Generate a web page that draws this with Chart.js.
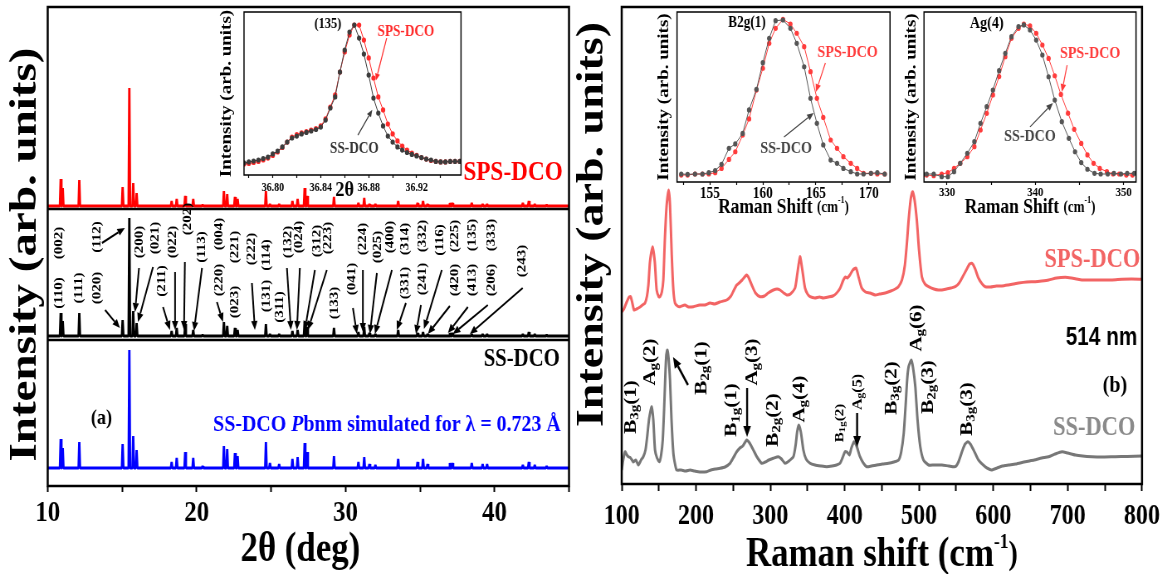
<!DOCTYPE html>
<html>
<head>
<meta charset="utf-8">
<script src="https://cdn.jsdelivr.net/npm/chart.js@4.4.1/dist/chart.umd.min.js"></script>
<style>
  html, body { margin: 0; padding: 0; background: #fff; }
  #wrap { position: relative; width: 1172px; height: 574px; overflow: hidden; }
  #wrap canvas { position: absolute; left: 0; top: 0; }
</style>
</head>
<body>
<div id="wrap">
  <canvas id="xrd" width="1412" height="574" style="width:1172px;height:574px"></canvas>
  <canvas id="raman" width="1412" height="574" style="width:1172px;height:574px"></canvas>
  <canvas id="xrdInset" width="1412" height="574" style="width:1172px;height:574px"></canvas>
  <canvas id="ramanInsetA" width="1412" height="574" style="width:1172px;height:574px"></canvas>
  <canvas id="ramanInsetB" width="1412" height="574" style="width:1172px;height:574px"></canvas>
</div>
<script>
// ---- data: XRD (left panel) ----
const xrdPeakPos = [10.87, 11.01, 12.12, 15.03, 15.48, 15.74, 15.97, 18.32, 18.66, 19.23, 19.77, 20.4,
  21.83, 22.05, 22.57, 22.75, 24.65, 24.92, 25.54, 26.43, 26.78, 27.25, 27.42, 29.22, 30.86, 31.25,
  31.6, 32.0, 33.53, 34.83, 35.2, 35.5, 37.0, 37.17, 38.47, 39.2, 39.5, 41.9, 42.3, 42.7, 43.5];
const xrdSimHeights = [29, 20, 26, 24, 118, 32, 18, 6, 10, 16, 10, 2, 22, 19, 15, 12, 26, 5, 4, 9, 11, 25,
  16, 12, 6, 11, 4, 3, 9, 6, 9, 4, 5, 5, 5, 4, 4, 3, 6, 3, 2];
const xrdSsHeights = [23, 15, 23, 16, 118, 25, 13, 5, 8, 12, 6, 1, 14, 10, 8, 6, 12, 2, 2, 5, 6, 14,
  9, 8, 4, 9, 3, 2, 6, 3, 4, 2, 3, 3, 2, 2, 2, 2, 4, 2, 1];
const xrdSpsHeights = [27, 18, 26, 19, 118, 23, 13, 5, 7, 10, 7, 1, 15, 12, 9, 7, 15, 2, 2, 5, 7, 18,
  10, 9, 3, 8, 2, 2, 5, 3, 5, 2, 3, 3, 3, 2, 2, 3, 5, 2, 1];
const xrdOffsets = { sps: 280, ss: 150, sim: 18 };
const xrdSeparators = [277, 146];

// Miller index labels: [text, 2theta, intensity]
const millerLabels = [
  ["(110)", 10.76, 193], ["(002)", 10.76, 243], ["(111)", 12.10, 198], ["(020)", 13.31, 198],
  ["(112)", 13.31, 249], ["(200)", 16.19, 244], ["(021)", 17.20, 248], ["(211)", 17.67, 205],
  ["(022)", 18.41, 244], ["(202)", 19.42, 267], ["(113)", 20.36, 239], ["(220)", 21.50, 206],
  ["(004)", 21.50, 252], ["(023)", 22.57, 184], ["(221)", 22.57, 239], ["(222)", 23.71, 237],
  ["(131)", 24.72, 190], ["(114)", 24.72, 231], ["(311)", 25.59, 179], ["(132)", 26.12, 244],
  ["(024)", 26.86, 249], ["(312)", 28.07, 245], ["(223)", 28.81, 248], ["(133)", 29.28, 183],
  ["(041)", 30.42, 207], ["(224)", 31.16, 247], ["(025)", 32.17, 239], ["(400)", 32.97, 249],
  ["(331)", 33.98, 203], ["(314)", 33.98, 247], ["(241)", 35.19, 207], ["(332)", 35.19, 250],
  ["(116)", 36.33, 246], ["(420)", 37.34, 206], ["(225)", 37.34, 250], ["(413)", 38.54, 206],
  ["(135)", 38.54, 251], ["(206)", 39.81, 206], ["(333)", 39.81, 251], ["(243)", 41.83, 225]
];
// arrows: [from 2theta, from I, to 2theta, to I]
const millerArrows = [
  [13.85, 176, 14.85, 158], [13.64, 243, 15.18, 258], [16.13, 218, 15.86, 174], [17.07, 219, 16.06, 164],
  [17.74, 179, 18.21, 156], [18.55, 214, 18.55, 156], [19.21, 224, 19.15, 156], [20.36, 218, 19.82, 155],
  [21.36, 184, 21.77, 164], [23.71, 203, 23.91, 156], [26.06, 218, 26.33, 156], [26.93, 218, 26.73, 156],
  [27.94, 216, 27.27, 156], [28.74, 216, 27.47, 156], [30.49, 178, 30.76, 152], [31.16, 216, 31.16, 154],
  [32.10, 213, 31.63, 152], [33.11, 216, 31.97, 152], [34.05, 183, 33.44, 156], [35.06, 181, 34.72, 152],
  [36.46, 216, 35.26, 157], [37.00, 180, 35.52, 152], [38.21, 179, 36.87, 153], [39.55, 181, 37.20, 152],
  [41.89, 198, 38.34, 152]
];

// ---- data: XRD inset, (135) reflection ----
const insetTheta = [36.776, 36.780, 36.784, 36.788, 36.792, 36.796, 36.800, 36.804, 36.808, 36.812,
  36.816, 36.820, 36.824, 36.828, 36.832, 36.836, 36.840, 36.844, 36.848, 36.852, 36.856, 36.860,
  36.864, 36.868, 36.872, 36.876, 36.880, 36.884, 36.888, 36.892, 36.896, 36.900, 36.904, 36.908,
  36.912, 36.916, 36.920, 36.924, 36.928, 36.932, 36.936, 36.940, 36.944, 36.948, 36.952, 36.956];
const insetSs = [7.4, 8.0, 8.6, 9.2, 10.1, 11.0, 12.9, 14.7, 17.2, 20.2, 22.7, 23.9, 25.2, 26.1, 27.0,
  27.9, 29.4, 33.7, 41.1, 47.9, 63.2, 76.7, 87.7, 92.0, 84.0, 74.2, 61.3, 47.2, 38.0, 30.1, 23.9,
  20.2, 17.2, 15.3, 13.8, 12.6, 11.7, 10.7, 9.8, 9.2, 8.3, 8.0, 8.0, 8.3, 8.3, 8.3];
const insetSps = [6.7, 7.1, 7.7, 8.3, 9.2, 10.4, 12.0, 14.1, 16.9, 20.2, 23.3, 24.8, 25.8, 26.7, 27.6,
  28.5, 30.1, 34.4, 41.7, 49.1, 63.2, 75.5, 85.9, 92.0, 92.0, 82.8, 71.8, 59.5, 47.9, 39.9, 31.3,
  25.2, 20.9, 17.8, 15.3, 13.5, 12.0, 10.7, 9.8, 8.9, 8.3, 8.0, 8.0, 8.3, 8.3, 8.3];

// ---- data: Raman (right panel), already stacked ----
const ramanSps = [
  [100, 172.3], [103, 175], [106.7, 182], [110, 187], [112, 187.3], [114, 182], [116.6, 174], [120, 175],
  [124.7, 177], [128, 179], [131.4, 181], [134, 188], [135.9, 199], [138, 222], [141.7, 237.3], [144.5, 222],
  [147, 194], [150, 187], [151.6, 187.3], [154, 192], [156, 204], [158, 244], [160.5, 279], [163.2, 294],
  [165, 279], [167.3, 229], [169.5, 194], [171.7, 181], [175, 178], [178.5, 177.3], [185, 179], [190, 177],
  [196.4, 177.3], [205, 179], [212, 179], [218.8, 181], [225, 180], [232, 182], [241.3, 184], [247, 188],
  [251, 194], [254.7, 199], [258, 201], [262, 204], [268.2, 209], [271, 206], [274.9, 199], [280, 191],
  [286.1, 187.3], [292, 188], [297, 191], [304, 194], [309, 195], [313, 194], [318, 191], [322, 189],
  [327, 190], [333.2, 196], [336, 209], [339.9, 227.3], [343, 214], [346.6, 196], [350, 190], [353.4, 187.3],
  [360, 186], [366, 187], [371.3, 186], [378, 187], [384, 188], [389.2, 191], [394, 196], [398.2, 204],
  [401, 207], [403.6, 206], [407, 209], [411, 214], [415.2, 216], [419, 206], [422.9, 196], [428, 192],
  [434.1, 191], [441, 189], [447, 190], [454.6, 191], [462, 193], [468, 195], [472, 197], [477, 204],
  [481, 219], [484, 244], [486, 264], [489, 286], [491.4, 292.3], [494, 284], [497, 264], [500, 234],
  [503.8, 207.3], [508, 200], [512.8, 197.3], [520, 195], [526, 194], [530.8, 194], [537, 195], [543, 196],
  [548.7, 197.3], [554, 201], [560, 209], [565, 216], [568, 220], [571.2, 220.7], [575, 216], [580.1, 205.7],
  [585, 200], [589, 197.3], [596, 197], [604, 198], [611.5, 198], [620, 199], [627, 200], [634, 201],
  [645, 202], [656.4, 202.3], [665, 203], [674.4, 204], [685, 206], [696.8, 206.7], [705, 206], [712, 205],
  [719, 204], [730, 204], [746, 204], [760, 204], [773, 204.7], [786, 205], [800, 204.7]
];
const ramanSs = [
  [100, 14], [102, 24], [104.5, 32.3], [107, 29], [109, 27.3], [112, 26], [115.7, 22], [119, 24],
  [122.4, 19], [126, 24], [129, 27.3], [132, 34], [134.5, 49], [137, 66], [140.4, 77.3], [142.5, 64],
  [144.8, 34], [147.5, 26], [150.7, 22.3], [153, 29], [155.2, 44], [157, 74], [158.7, 109], [160, 129],
  [161.4, 134], [163, 126], [165, 104], [167, 64], [169.5, 30.7], [172, 19], [174, 14], [180, 14],
  [186, 13], [192, 14], [198, 13], [205, 12], [214.3, 12.3], [220, 14], [226, 15], [232.3, 15.7],
  [239, 17], [245.7, 20.7], [250, 26], [254.7, 32.3], [259, 36], [263, 38], [268.2, 44], [272, 41],
  [277.1, 34], [282, 27], [288.3, 20.7], [293, 22], [298, 24], [304, 25.7], [310.8, 27.3], [315, 25],
  [319.7, 20.7], [325, 23], [331, 27.3], [334, 39], [336, 52], [338.1, 59], [341, 52], [344.4, 34],
  [348, 25], [353.4, 20.7], [360, 19], [368, 18], [375.8, 17.3], [383, 18], [389, 19], [393.7, 20.7],
  [397, 26], [400.4, 32.3], [403, 32], [406.3, 29], [409, 36], [412.6, 42.3], [416, 38], [420.6, 27.3],
  [425, 21], [429.6, 17.3], [436, 18], [443, 19], [451, 20], [459, 20.7], [466, 22], [472.6, 24],
  [476, 32], [479.4, 50.7], [482, 79], [484, 104], [486, 117.3], [489.6, 124], [492, 116], [495, 97.3],
  [498, 64], [501.7, 37.3], [506, 24], [512.8, 19], [520, 19], [530.8, 19], [540, 18], [548.7, 17.3],
  [553, 22], [558.6, 34], [562, 40], [565.8, 42.3], [569, 40], [573.4, 34], [580, 24], [589, 17.3],
  [594, 15], [598, 14], [605, 16], [612, 18], [620.5, 19], [630, 20], [643, 22.3], [655, 24],
  [665, 26], [674.4, 27.3], [683, 30], [692.3, 32.3], [700, 31], [710.3, 29], [720, 28], [732.7, 27.3],
  [745, 27], [764, 27.3], [780, 27.5], [800, 28]
];

// mode labels: [main, subscript, index, shift, intensity, size]
const modeLabels = [
  ["B", "3g", "(1)", 112.5, 77, 21], ["A", "g", "(2)", 138.1, 122, 21], ["B", "2g", "(1)", 208.1, 116, 21],
  ["B", "1g", "(1)", 248.5, 74, 21], ["A", "g", "(3)", 275.4, 122, 21], ["B", "2g", "(2)", 303.7, 64, 21],
  ["A", "g", "(4)", 340.0, 85, 21], ["B", "1g", "(2)", 393.8, 61, 15], ["A", "g", "(5)", 418.1, 92, 16],
  ["A", "g", "(6)", 497.4, 156, 21], ["B", "3g", "(2)", 463.8, 96, 21], ["B", "2g", "(3)", 512.3, 97, 21],
  ["B", "3g", "(3)", 564.8, 75, 21]
];
const modeArrows = [[189.2, 99, 169.0, 127], [268.7, 96, 268.7, 47], [416.7, 71, 416.7, 37]];

// ---- data: Raman insets ----
const insetAShift = [152.3, 152.9, 153.6, 154.3, 154.9, 155.5, 156.1, 156.8, 157.4, 158.1, 158.7, 159.4,
  160.0, 160.6, 161.2, 161.9, 162.6, 163.2, 163.9, 164.5, 165.1, 165.7, 166.4, 167.0, 167.6, 168.3,
  168.9, 169.5, 170.2, 170.8, 171.5];
const insetASs = [4.7, 4.5, 4.7, 4.7, 5.5, 6.7, 10.4, 19.8, 22.4, 28.6, 42.4, 54.5, 70.2, 84.5, 94.9,
  95.3, 90.4, 81.6, 67.8, 49.2, 34.5, 21.8, 12.9, 11.0, 8.0, 6.1, 4.7, 4.7, 5.1, 5.5, 4.7];
const insetASps = [4.1, 4.1, 4.7, 4.7, 4.7, 5.5, 8.0, 13.3, 17.8, 27.6, 37.1, 54.1, 66.9, 81.6, 90.4,
  95.7, 92.9, 87.5, 79.6, 64.9, 49.2, 38.0, 24.7, 19.8, 14.9, 11.0, 8.0, 5.1, 5.1, 4.7, 4.7];

const insetBShiftSs = [327.7, 328.5, 329.4, 330.1, 330.8, 331.5, 332.3, 333.1, 333.8, 334.5, 335.2, 335.9,
  336.6, 337.3, 338.1, 338.7, 339.4, 340.1, 340.8, 341.5, 342.2, 343.0, 343.8, 344.5, 345.2, 345.9,
  346.7, 347.4, 348.2, 348.9, 349.7, 350.4, 351.2];
const insetBSs = [4.7, 4.7, 3.1, 3.1, 6.1, 11.0, 16.9, 23.7, 34.5, 44.3, 54.1, 65.5, 75.7, 85.5, 91.4,
  92.4, 89.4, 83.5, 74.7, 61.9, 48.2, 35.5, 25.7, 17.8, 11.4, 7.5, 5.1, 4.7, 4.7, 5.1, 4.7, 5.1, 5.1];
const insetBShiftSps = [327.7, 328.5, 329.4, 330.1, 330.8, 331.5, 332.3, 333.1, 333.8, 334.5, 335.2, 335.9,
  336.6, 337.3, 338.1, 338.7, 339.4, 340.1, 340.8, 341.5, 342.2, 342.9, 343.7, 344.4, 345.2, 345.9,
  346.6, 347.3, 348.1, 348.8, 349.5, 350.3, 351.0];
const insetBSps = [4.1, 3.7, 4.7, 5.5, 8.0, 11.0, 14.9, 20.8, 30.6, 40.4, 51.2, 62.0, 73.7, 84.5, 90.4,
  92.9, 91.8, 87.5, 80.6, 72.7, 62.5, 51.5, 40.5, 31.0, 22.7, 15.9, 11.0, 8.0, 6.1, 4.7, 4.7, 4.1, 4.1];

// ---- layout ----
const PAGE_W = 1172, PAGE_H = 574, INNER_W = 1412;
const K = INNER_W / PAGE_W; // the figure is drawn wide and squeezed to the page width
const SERIF = '"Liberation Serif", "Times New Roman", serif';
const SANS = '"Liberation Sans", Arial, sans-serif';

Chart.defaults.font.family = SERIF;
Chart.defaults.font.weight = "bold";
Chart.defaults.color = "#000";

function buildPattern(pos, heights, base) {
  const pts = [{ x: 10, y: base }];
  pos.forEach((p, i) => {
    pts.push({ x: p - 0.05, y: base }, { x: p, y: base + heights[i] }, { x: p + 0.05, y: base });
  });
  pts.push({ x: 45, y: base });
  return pts;
}
const zip = (xs, ys) => xs.map((x, i) => ({ x, y: ys[i] }));
const pairs = (arr) => arr.map(([x, y]) => ({ x, y }));

function fontStr(italic, size, family) {
  return (italic ? "italic " : "") + "bold " + size + "px " + family;
}

function drawText(ctx, t, X, Y) {
  const parts = t.parts || [{ t: t.text }];
  const fam = t.family || SERIF;
  ctx.save();
  ctx.translate(X, Y);
  if (t.rot) ctx.rotate(-Math.PI / 2);
  ctx.fillStyle = t.color || "#000";
  ctx.textBaseline = "middle";
  ctx.textAlign = "left";
  let total = 0;
  const widths = parts.map((p) => {
    ctx.font = fontStr(p.it, t.size * (p.s || 1), fam);
    const w = ctx.measureText(p.t).width;
    total += w;
    return w;
  });
  let cx = t.align === "right" ? -total : t.align === "left" ? 0 : -total / 2;
  parts.forEach((p, i) => {
    ctx.font = fontStr(p.it, t.size * (p.s || 1), fam);
    ctx.fillText(p.t, cx, (p.dy || 0) * t.size);
    cx += widths[i];
  });
  ctx.restore();
}

function drawArrow(ctx, x1, y1, x2, y2, color, w, head) {
  const a = Math.atan2(y2 - y1, x2 - x1);
  const bx = x2 - head * Math.cos(a), by = y2 - head * Math.sin(a);
  ctx.save();
  ctx.strokeStyle = color;
  ctx.fillStyle = color;
  ctx.lineWidth = w;
  ctx.beginPath();
  ctx.moveTo(x1, y1);
  ctx.lineTo(bx, by);
  ctx.stroke();
  ctx.beginPath();
  ctx.moveTo(x2, y2);
  ctx.lineTo(bx + head * 0.42 * Math.sin(a), by - head * 0.42 * Math.cos(a));
  ctx.lineTo(bx - head * 0.42 * Math.sin(a), by + head * 0.42 * Math.cos(a));
  ctx.closePath();
  ctx.fill();
  ctx.restore();
}

// box, separators, texts and arrows for one chart
function decor(cfg) {
  return {
    id: "decor",
    afterDraw(chart) {
      const { ctx, chartArea: a } = chart;
      const xs = chart.scales.x, ys = chart.scales.y;
      ctx.save();
      ctx.strokeStyle = "#000";
      (cfg.hlines || []).forEach((v) => {
        const y = ys.getPixelForValue(v);
        ctx.lineWidth = cfg.box;
        ctx.beginPath();
        ctx.moveTo(a.left, y);
        ctx.lineTo(a.right, y);
        ctx.stroke();
      });
      ctx.lineWidth = cfg.box;
      ctx.strokeRect(a.left, a.top, a.right - a.left, a.bottom - a.top);
      ctx.restore();
      (cfg.arrows || []).forEach((ar) => {
        drawArrow(ctx, xs.getPixelForValue(ar.from[0]), ys.getPixelForValue(ar.from[1]),
          xs.getPixelForValue(ar.to[0]), ys.getPixelForValue(ar.to[1]), ar.color || "#000", ar.w, ar.head);
      });
      (cfg.texts || []).forEach((t) => {
        const X = t.x !== undefined ? xs.getPixelForValue(t.x) : a.left + t.fx * (a.right - a.left) + (t.dx || 0) * K;
        const Y = t.y !== undefined ? ys.getPixelForValue(t.y) : a.top + t.fy * (a.bottom - a.top) + (t.dy || 0);
        drawText(ctx, t, X, Y);
      });
    }
  };
}

function frame(o) {
  return {
    responsive: false,
    animation: false,
    devicePixelRatio: 1,
    layout: { padding: { left: o.L * K, right: (PAGE_W - o.R) * K, top: o.T, bottom: PAGE_H - o.B - o.H } },
    plugins: { legend: { display: false }, tooltip: { enabled: false } },
    scales: {
      x: {
        type: "linear",
        min: o.xmin,
        max: o.xmax,
        afterFit: (s) => { s.height = o.H; },
        border: { display: false },
        grid: { drawOnChartArea: false, drawTicks: true, tickLength: o.tickLen, tickWidth: o.tickW || 2, tickColor: "#000", color: "#000" },
        ticks: {
          stepSize: o.step, includeBounds: false, autoSkip: false, maxRotation: 0, minRotation: 0,
          padding: o.tickPad, color: "#000", font: { size: o.tickSize, weight: "bold", family: SERIF },
          callback: o.fmt
        }
      },
      y: { display: false, min: 0, max: o.ymax }
    }
  };
}

const lineSet = (data, color, width, extra) => Object.assign({
  data, borderColor: color, backgroundColor: color, borderWidth: width, pointRadius: 0, tension: 0, fill: false
}, extra || {});

const yTitle = (dx, dy, size) => ({ text: "Intensity (arb. units)", fx: 0, dx, fy: 0.5, dy, rot: true, size });
const sub = (t) => ({ t, s: 0.72, dy: 0.22 });

// ---- left: XRD ----
const xrdTexts = millerLabels.map(([text, x, y]) => ({ text, x, y, rot: true, size: 15 }));
xrdTexts.push(
  { text: "SPS-DCO", x: 44.58, y: 313, align: "right", size: 28, color: "#ff0000" },
  { text: "SS-DCO", x: 44.38, y: 126, align: "right", size: 25 },
  { text: "(a)", x: 13.61, y: 68, size: 22 },
  { parts: [{ t: "SS-DCO " }, { t: "P", it: true }, { t: "bnm simulated for λ = 0.723 Å" }],
    x: 44.45, y: 61, align: "right", size: 24, color: "#0000ff" },
  yTitle(-22, 8, 47),
  { text: "2θ (deg)", fx: 0.5, dx: -8, fy: 1, dy: 64, size: 42 }
);
const xrdLine = { borderJoinStyle: "bevel" };
new Chart(document.getElementById("xrd"), {
  type: "line",
  data: {
    datasets: [
      lineSet(buildPattern(xrdPeakPos, xrdSpsHeights, xrdOffsets.sps), "#ff0000", 2.8, xrdLine),
      lineSet(buildPattern(xrdPeakPos, xrdSsHeights, xrdOffsets.ss), "#000000", 2.8, xrdLine),
      lineSet(buildPattern(xrdPeakPos, xrdSimHeights, xrdOffsets.sim), "#0000ff", 2.8, xrdLine)
    ]
  },
  options: frame({ L: 47.7, R: 569, T: 7, B: 486, H: 70, xmin: 10, xmax: 45, step: 5, ymax: 479,
    tickSize: 30, tickLen: 6, tickPad: 3, fmt: (v) => (v % 10 === 0 ? String(v) : "") }),
  plugins: [decor({
    box: 2.5,
    hlines: xrdSeparators,
    arrows: millerArrows.map((m) => ({ from: [m[0], m[1]], to: [m[2], m[3]], w: 2, head: 9 })),
    texts: xrdTexts
  })]
});

// ---- left inset: (135) peak ----
new Chart(document.getElementById("xrdInset"), {
  type: "line",
  data: {
    datasets: [
      lineSet(zip(insetTheta, insetSs), "#3c3c3c", 1, { pointRadius: 2.6, pointBorderWidth: 0 }),
      lineSet(zip(insetTheta, insetSps), "#ff2a2a", 1, { pointRadius: 2.6, pointBorderWidth: 0 })
    ]
  },
  options: frame({ L: 244, R: 461, T: 12, B: 175, H: 30, xmin: 36.776, xmax: 36.957, step: 0.02, ymax: 100,
    tickSize: 12, tickLen: 3, tickPad: 3, tickW: 1.2,
    fmt: (v) => (Math.round(v * 100) % 4 === 0 ? v.toFixed(2) : "") }),
  plugins: [decor({
    box: 1.5,
    arrows: [
      { from: [36.895, 84.0], to: [36.886, 58], color: "#ff2a2a", w: 1.2, head: 7 },
      { from: [36.871, 24.5], to: [36.883, 40], color: "#3c3c3c", w: 1.2, head: 7 }
    ],
    texts: [
      { text: "(135)", x: 36.846, y: 92.6, size: 15 },
      { text: "SPS-DCO", x: 36.911, y: 87.7, size: 16, color: "#ff2a2a" },
      { text: "SS-DCO", x: 36.868, y: 16, size: 16, color: "#333" },
      { text: "2θ", x: 36.860, fy: 1, dy: 15, size: 22 },
      yTitle(-17, 0, 19)
    ]
  })]
});

// ---- right: Raman ----
const ramanTexts = modeLabels.map(([m, s, n, x, y, size]) => ({
  parts: [{ t: m }, sub(s), { t: n }], x, y, rot: true, size
}));
ramanTexts.push(
  { text: "SPS-DCO", x: 797.6, y: 224, align: "right", size: 27, color: "#f26464" },
  { text: "514 nm", x: 793.6, y: 146, align: "right", size: 25, family: SANS },
  { text: "(b)", x: 780, y: 98, align: "right", size: 24 },
  { text: "SS-DCO", x: 791, y: 56, align: "right", size: 27, color: "#8a8a8a" },
  yTitle(-29, -21, 46),
  { parts: [{ t: "Raman shift (cm" }, { t: "-1", s: 0.5, dy: -0.3 }, { t: ")", s: 0.8 }], fx: 0.5, fy: 1, dy: 71, size: 42 }
);
new Chart(document.getElementById("raman"), {
  type: "line",
  data: {
    datasets: [
      lineSet(pairs(ramanSps), "#f26464", 3, { tension: 0.2 }),
      lineSet(pairs(ramanSs), "#777777", 3, { tension: 0.2 })
    ]
  },
  options: frame({ L: 621.7, R: 1142, T: 7, B: 484, H: 70, xmin: 100, xmax: 800, step: 50, ymax: 477,
    tickSize: 29, tickLen: 7, tickPad: 8, fmt: (v) => (v % 100 === 0 ? String(v) : "") }),
  plugins: [decor({
    box: 2.5,
    arrows: modeArrows.map((m) => ({ from: [m[0], m[1]], to: [m[2], m[3]], w: 2.4, head: 11 })),
    texts: ramanTexts
  })]
});

// ---- right insets ----
function ramanInset(id, dsSs, dsSps, o, texts, arrows) {
  new Chart(document.getElementById(id), {
    type: "line",
    data: {
      datasets: [
        lineSet(dsSs, "#555555", 1, { pointRadius: 2.6, pointBorderWidth: 0 }),
        lineSet(dsSps, "#ff3c3c", 1, { pointRadius: 2.6, pointBorderWidth: 0 })
      ]
    },
    options: frame(Object.assign({ T: 12, B: 182, H: 30, ymax: 100, tickLen: 3, tickW: 1.2 }, o)),
    plugins: [decor({
      box: 1.5,
      arrows,
      texts: texts.concat([
        yTitle(-12.5, 0, 19),
        { parts: [{ t: "Raman Shift " }, { t: "(cm", s: 0.75 }, { t: "-1", s: 0.45, dy: -0.35 }, { t: ")", s: 0.75 }],
          fx: 0.5, fy: 1, dy: 26, size: 21 }
      ])
    })]
  });
}

ramanInset("ramanInsetA", zip(insetAShift, insetASs), zip(insetAShift, insetASps),
  { L: 677, R: 890, xmin: 151.9, xmax: 172.0, step: 2.5, tickSize: 16, tickPad: -1,
    fmt: (v) => (Math.abs(v % 5) < 1e-6 ? String(v) : "") },
  [
    { text: "B2g(1)", x: 158.5, y: 93.5, size: 16 },
    { text: "SPS-DCO", x: 168.0, y: 75.9, size: 17, color: "#ff3c3c" },
    { text: "SS-DCO", x: 162.2, y: 19.4, size: 17, color: "#444" }
  ],
  [
    { from: [165.9, 70], to: [165.0, 52.9], color: "#ff3c3c", w: 1.2, head: 8 },
    { from: [162.0, 26.5], to: [164.8, 40.6], color: "#444", w: 1.2, head: 8 }
  ]);

ramanInset("ramanInsetB", zip(insetBShiftSs, insetBSs), zip(insetBShiftSps, insetBSps),
  { L: 924, R: 1136, xmin: 327.4, xmax: 351.4, step: 5, tickSize: 13, tickPad: 0,
    fmt: (v) => (v % 10 === 0 ? String(v) : "") },
  [
    { text: "Ag(4)", x: 334.5, y: 92.9, size: 17 },
    { text: "SPS-DCO", x: 346.2, y: 75.3, size: 17, color: "#ff3c3c" },
    { text: "SS-DCO", x: 339.4, y: 26.5, size: 17, color: "#444" }
  ],
  [
    { from: [343.6, 68.8], to: [343.0, 52.9], color: "#ff3c3c", w: 1.2, head: 8 },
    { from: [339.4, 32.4], to: [342.0, 46.5], color: "#444", w: 1.2, head: 8 }
  ]);
</script>
</body>
</html>
